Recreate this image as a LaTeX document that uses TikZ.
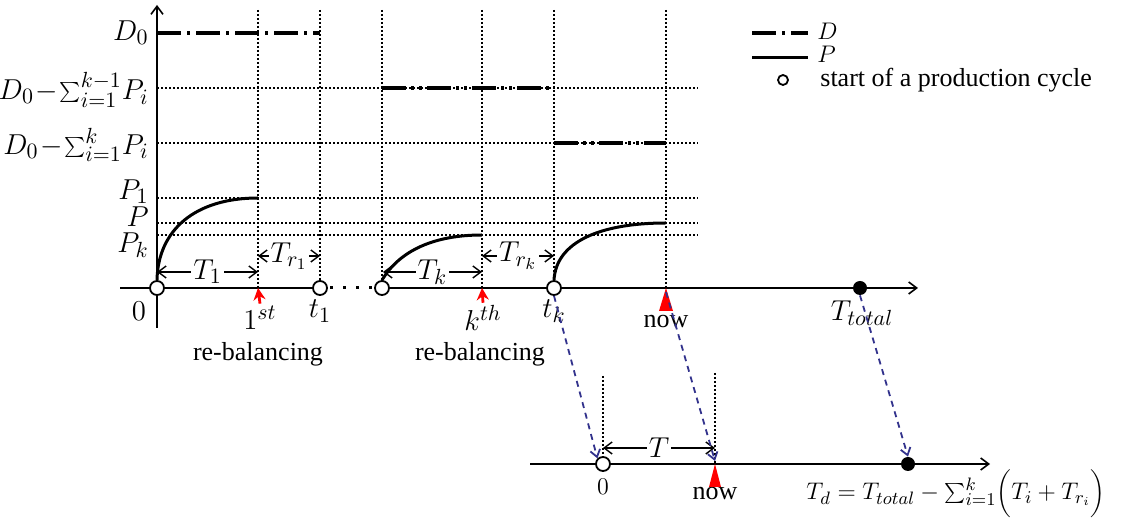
\documentclass[tikz,border=0pt]{standalone}
\usepackage{fontspec}
\setmainfont{Liberation Serif}
\usetikzlibrary{arrows.meta}
\definecolor{mapblue}{RGB}{50,50,140}
\begin{document}
\begin{tikzpicture}[x=0.5pt,y=-0.5pt,
  font=\fontsize{13}{15}\selectfont,
  >={Straight Barb[length=4pt,width=6pt]},
  lab/.style={inner sep=1pt},
  bigmath/.style={font=\fontsize{15.5}{17}\selectfont},
  opendot/.style={circle,draw,line width=0.9pt,fill=white,inner sep=0pt,minimum size=7pt},
  fulldot/.style={circle,fill=black,inner sep=0pt,minimum size=7pt},
  guide/.style={line width=0.8pt,dash pattern=on 0.8pt off 1.2pt},
  axisline/.style={line width=0.8pt},
  prodline/.style={line width=1.5pt},
  demline/.style={line width=1.8pt,dash pattern=on 12pt off 3pt on 1.5pt off 3pt},
  demlinetwo/.style={line width=1.8pt,dash pattern=on 12pt off 2.5pt on 1.5pt off 2.5pt on 1.5pt off 2.5pt},
  interval/.style={<->,line width=0.7pt},
  rebal/.style={red,line width=1.4pt,-{Stealth[length=6pt,width=6pt]}},
  mapline/.style={mapblue,line width=0.9pt,dash pattern=on 3pt off 2.5pt,-{Straight Barb[length=3.5pt,width=5pt]}}]
\useasboundingbox (0,0) rectangle (1121,523);

\draw[guide] (258,10) -- (258,288);
\draw[guide] (320,10) -- (320,288);
\draw[guide] (382,10) -- (382,288);
\draw[guide] (482,10) -- (482,288);
\draw[guide] (554,10) -- (554,288);
\draw[guide] (666,10) -- (666,288);
\draw[guide] (157,88) -- (698,88);
\draw[guide] (157,143) -- (698,143);
\draw[guide] (157,198) -- (698,198);
\draw[guide] (157,223) -- (698,223);
\draw[guide] (157,235) -- (698,235);
\draw[guide] (603,376) -- (603,464);
\draw[guide] (715,373) -- (715,464);

\draw[demline] (157,33) -- (320,33);
\draw[demlinetwo] (382,88) -- (552,88);
\draw[demlinetwo] (554,143) -- (666,143);

\draw[axisline,->] (157,328) -- (157,5);
\draw[axisline] (120,288) -- (320,288);
\draw[line width=1.5pt,dash pattern=on 1.5pt off 5pt] (330,288) -- (376,288);
\draw[axisline,->] (382,288) -- (918,288);
\draw[axisline,->] (530,464) -- (990,464);

\node[opendot] (o0) at (157,288) {};
\node[opendot] (t1) at (320,288) {};
\node[opendot] (sk) at (382,288) {};
\node[opendot] (tk) at (554,288) {};
\node[fulldot] (Ttot) at (860,288) {};
\node[opendot] (b0) at (603,464) {};
\node[fulldot] (Td) at (908,464) {};

\coordinate (p1) at (258,198);
\coordinate (pk) at (482,235);
\coordinate (p) at (666,223);
\draw[prodline] (o0.north) .. controls (158,230) and (195,198) .. (p1);
\draw[prodline] (sk.north) .. controls (400,250) and (435,235) .. (pk);
\draw[prodline] (tk.north) .. controls (556,242) and (600,223) .. (p);

\node[anchor=east,lab,bigmath] (lD0) at (151,33) {$D_0$};
\node[anchor=east,lab,bigmath] (lDk1) at (151,90) {$D_0\!-\!\sum_{i=1}^{k-1}\!P_i$};
\node[anchor=east,lab,bigmath] (lDk) at (151,145) {$D_0\!-\!\sum_{i=1}^{k}\!P_i$};
\node[anchor=east,lab,bigmath] (lP1) at (151,192) {$P_1$};
\node[anchor=east,lab,bigmath] (lP) at (151,217) {$P$};
\node[anchor=east,lab,bigmath] (lPk) at (151,245) {$P_k$};

\coordinate (a1) at (157,272);
\coordinate (a2) at (258,272);
\coordinate (a3) at (258,256);
\coordinate (a4) at (320,256);
\coordinate (a5) at (383,272);
\coordinate (a6) at (482,272);
\coordinate (a7) at (482,256);
\coordinate (a8) at (554,256);
\coordinate (a9) at (603,448);
\coordinate (a10) at (715,448);
\draw[interval] (a1) -- node[fill=white,lab,bigmath]{$T_1$} (a2);
\draw[interval] (a3) -- node[fill=white,lab,bigmath]{$T_{r_1}$} (a4);
\draw[interval] (a5) -- node[fill=white,lab,bigmath]{$T_k$} (a6);
\draw[interval] (a7) -- node[fill=white,lab,bigmath]{$T_{r_k}$} (a8);
\draw[interval] (a9) -- node[fill=white,lab,bigmath]{$T$} (a10);

\node[lab,bigmath] (l0) at (139,311) {$0$};
\node[lab,bigmath] (r1) at (260,318) {$1^{st}$};
\node[lab,bigmath] (lt1) at (320,311) {$t_1$};
\node[lab,bigmath] (rk) at (483,318) {$k^{th}$};
\node[lab,bigmath] (ltk) at (554,311) {$t_k$};
\node[lab] (rb1) at (258,354) {re-balancing};
\node[lab] (rb2) at (480,354) {re-balancing};
\node[lab] (nowtop) at (666,322) {now};
\node[lab,bigmath] (ltot) at (862,313) {$T_{total}$};
\node[lab] (lb0) at (603,487) {$0$};
\node[lab] (nowbot) at (715,494) {now};
\node[lab] (lTd) at (956,494) {$T_d=T_{total}-\sum_{i=1}^{k}\biggl(T_i+T_{r_i}\biggr)$};

\coordinate (q1) at (258,288);
\coordinate (qk) at (482,288);
\draw[rebal] (r1.north) -- (q1);
\draw[rebal] (rk.north) -- (qk);
\fill[red] (666,288) -- (659,311) -- (673,311) -- cycle;
\fill[red] (715,464) -- (709,487) -- (721,487) -- cycle;

\coordinate (nowA) at (666,292);
\coordinate (nowB) at (715,461);
\draw[mapline] (tk.south) -- (b0.north west);
\draw[mapline] (nowA) -- (nowB);
\draw[mapline] (Ttot.south) -- (Td.north);

\node[anchor=west,lab] (legD) at (815,31) {$D$};
\node[anchor=west,lab] (legP) at (815,54) {$P$};
\node[circle,draw,line width=0.9pt,inner sep=0pt,minimum size=5pt] (legO) at (783,80) {};
\node[anchor=west,lab] (legS) at (818,80) {start of a production cycle};
\coordinate (legDend) at (808,33);
\coordinate (legPend) at (808,58);
\draw[demline] (752,33) -- (legDend);
\draw[prodline] (752,58) -- (legPend);
\end{tikzpicture}
\end{document}
